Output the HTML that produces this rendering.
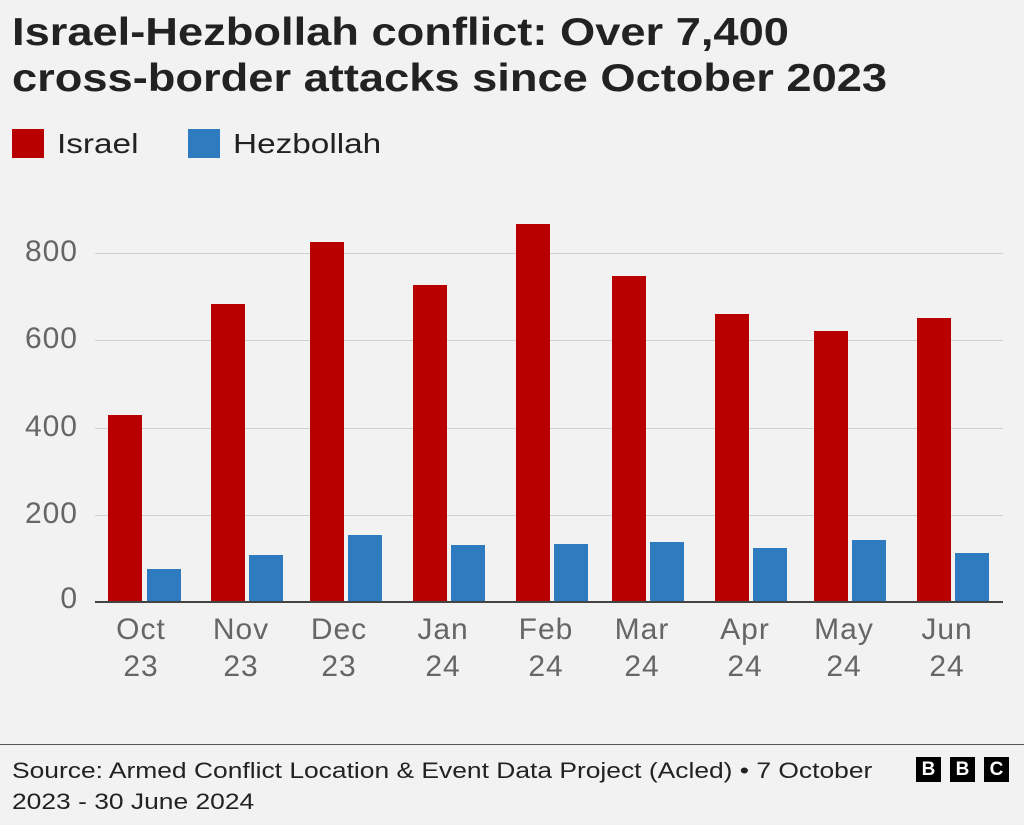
<!DOCTYPE html>
<html><head><meta charset="utf-8"><style>
body{margin:0;background:#f2f2f2;font-family:"Liberation Sans",sans-serif;}
.wrap{position:relative;width:1024px;height:825px;overflow:hidden;background:#f2f2f2}
.t{position:absolute;left:12px;top:10px;font-size:39px;font-weight:bold;line-height:46px;color:#222;transform:scaleX(1.16);transform-origin:0 0;white-space:nowrap}
.lg{position:absolute;top:128px;font-size:28px;color:#222;transform:scaleX(1.19);transform-origin:0 0}
.sw{position:absolute;top:129px;width:32px;height:29px}
.grid{position:absolute;left:95px;width:908px;height:1px;background:#d0d0d0}
.yl{position:absolute;left:0;width:78px;text-align:right;font-size:30px;color:#666;letter-spacing:1px}
.bar{position:absolute;width:34px}
.xl{position:absolute;width:90px;text-align:center;font-size:30px;line-height:37px;color:#666;top:611px;letter-spacing:1px}
.foot{position:absolute;left:12px;top:755px;font-size:22px;line-height:31px;color:#222;transform:scaleX(1.2);transform-origin:0 0;white-space:nowrap}
.b{position:absolute;top:757px;width:25px;height:25px;background:#000;color:#fff;font-weight:bold;font-size:19px;text-align:center;line-height:25px}
</style></head><body><div class="wrap">
<div class="t">Israel-Hezbollah conflict: Over 7,400<br>cross-border attacks since October 2023</div>
<div class="sw" style="left:12px;background:#b80000"></div><div class="lg" style="left:57px">Israel</div>
<div class="sw" style="left:188px;background:#2e7bbf"></div><div class="lg" style="left:233px">Hezbollah</div>
<div class="grid" style="top:253px"></div><div class="grid" style="top:340px"></div><div class="grid" style="top:428px"></div><div class="grid" style="top:515px"></div>
<div class="yl" style="top:235px">800</div><div class="yl" style="top:322px">600</div><div class="yl" style="top:410px">400</div><div class="yl" style="top:497px">200</div><div class="yl" style="top:582px">0</div>
<div class="bar" style="left:108px;top:415px;height:187px;background:#b80000"></div><div class="bar" style="left:147px;top:569px;height:33px;background:#2e7bbf"></div>
<div class="bar" style="left:211px;top:304px;height:298px;background:#b80000"></div><div class="bar" style="left:249px;top:555px;height:47px;background:#2e7bbf"></div>
<div class="bar" style="left:310px;top:242px;height:360px;background:#b80000"></div><div class="bar" style="left:348px;top:535px;height:67px;background:#2e7bbf"></div>
<div class="bar" style="left:413px;top:285px;height:317px;background:#b80000"></div><div class="bar" style="left:451px;top:545px;height:57px;background:#2e7bbf"></div>
<div class="bar" style="left:516px;top:224px;height:378px;background:#b80000"></div><div class="bar" style="left:554px;top:544px;height:58px;background:#2e7bbf"></div>
<div class="bar" style="left:612px;top:276px;height:326px;background:#b80000"></div><div class="bar" style="left:650px;top:542px;height:60px;background:#2e7bbf"></div>
<div class="bar" style="left:715px;top:314px;height:288px;background:#b80000"></div><div class="bar" style="left:753px;top:548px;height:54px;background:#2e7bbf"></div>
<div class="bar" style="left:814px;top:331px;height:271px;background:#b80000"></div><div class="bar" style="left:852px;top:540px;height:62px;background:#2e7bbf"></div>
<div class="bar" style="left:917px;top:318px;height:284px;background:#b80000"></div><div class="bar" style="left:955px;top:553px;height:49px;background:#2e7bbf"></div>
<div style="position:absolute;left:95px;top:601px;width:908px;height:2px;background:#444"></div>
<div class="xl" style="left:96px">Oct<br>23</div><div class="xl" style="left:196px">Nov<br>23</div><div class="xl" style="left:294px">Dec<br>23</div>
<div class="xl" style="left:398px">Jan<br>24</div><div class="xl" style="left:501px">Feb<br>24</div><div class="xl" style="left:597px">Mar<br>24</div>
<div class="xl" style="left:700px">Apr<br>24</div><div class="xl" style="left:799px">May<br>24</div><div class="xl" style="left:902px">Jun<br>24</div>
<div style="position:absolute;left:0;top:744px;width:1024px;height:1px;background:#555"></div>
<div class="foot">Source: Armed Conflict Location &amp; Event Data Project (Acled) • 7 October<br>2023 - 30 June 2024</div>
<div class="b" style="left:916px">B</div><div class="b" style="left:950px">B</div><div class="b" style="left:984px">C</div>
</div></body></html>
